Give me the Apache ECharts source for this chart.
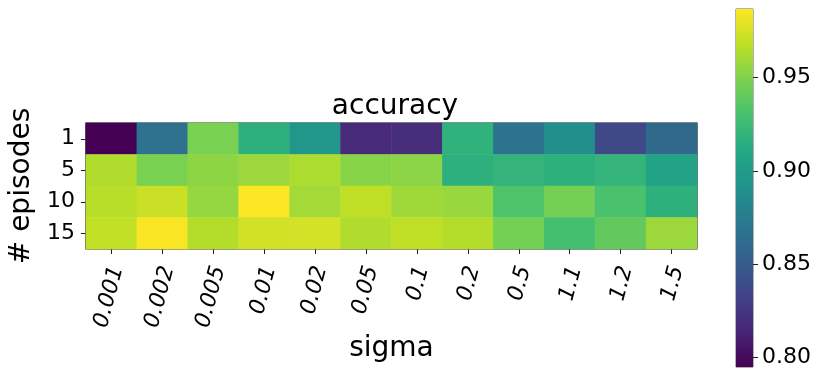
<!DOCTYPE html>
<html><head><meta charset="utf-8">
<script src="https://cdn.jsdelivr.net/npm/echarts@6/dist/echarts.min.js"></script>
<style>html,body{margin:0;padding:0;background:#fff}#c{width:815px;height:371px}</style>
</head><body><div id="c"></div>
<script>
const sigmas = ['0.001','0.002','0.005','0.01','0.02','0.05','0.1','0.2','0.5','1.1','1.2','1.5'];
const episodes = ['1','5','10','15'];
const acc_ep1  = [0.795,0.866,0.948,0.916,0.895,0.818,0.820,0.918,0.868,0.889,0.837,0.860];
const acc_ep5  = [0.964,0.948,0.954,0.958,0.963,0.952,0.953,0.916,0.920,0.917,0.920,0.906];
const acc_ep10 = [0.966,0.971,0.956,0.9866,0.960,0.968,0.959,0.957,0.933,0.946,0.931,0.917];
const acc_ep15 = [0.969,0.985,0.965,0.973,0.974,0.964,0.968,0.965,0.946,0.929,0.940,0.958];
const cbarMin = 0.795, cbarMax = 0.9866;
const cbarTicks = [0.80,0.85,0.90,0.95];
const viridis = ['#440154','#482475','#414487','#355f8d','#2a788e','#21918c','#22a884','#44bf70','#7ad151','#bddf26','#fde725'];

const rows = [acc_ep1, acc_ep5, acc_ep10, acc_ep15];
const cells = [];
rows.forEach((r, yi) => r.forEach((v, xi) => cells.push([xi, yi, v])));

const font = 'DejaVu Sans';
const chart = echarts.init(document.getElementById('c'), null, {renderer:'canvas'});
chart.setOption({
  animation:false,
  title:{text:'accuracy', left:390, textAlign:'center', top:88,
    textStyle:{fontFamily:font, fontSize:28, fontWeight:'normal', color:'#000'}},
  grid:[
    {left:84, right:118, top:123, bottom:122, show:true, borderColor:'#222', borderWidth:1.2, backgroundColor:'transparent'},
    {left:736, right:62, top:9, bottom:4, show:true, borderColor:'#666', borderWidth:1, backgroundColor:'transparent'}
  ],
  visualMap:{show:false, min:cbarMin, max:cbarMax, seriesIndex:0, dimension:2,
    inRange:{color:viridis}},
  xAxis:[
    {type:'category', gridIndex:0, data:sigmas, name:'sigma', nameLocation:'middle', nameGap:86,
     nameTextStyle:{fontFamily:font, fontSize:28, color:'#000'},
     axisLine:{show:false}, splitLine:{show:false},
     axisTick:{show:true, alignWithLabel:true, length:5, lineStyle:{color:'#222'}},
     axisLabel:{rotate:75, margin:16, verticalAlign:'top', lineHeight:12, fontFamily:font, fontStyle:'italic', fontSize:22, color:'#000'}},
    {type:'category', gridIndex:1, data:['c'], show:false}
  ],
  yAxis:[
    {type:'category', gridIndex:0, data:episodes, inverse:true, name:'# episodes', nameLocation:'middle', nameGap:48,
     nameTextStyle:{fontFamily:font, fontSize:28, color:'#000'},
     axisLine:{show:false}, splitLine:{show:false},
     axisTick:{show:true, alignWithLabel:true, length:5, lineStyle:{color:'#222'}},
     axisLabel:{margin:11, fontFamily:font, fontSize:22, color:'#000'}},
    {type:'value', gridIndex:1, min:cbarMin, max:cbarMax, position:'right',
     axisLine:{show:false}, splitLine:{show:false},
     axisTick:{show:true, length:5, customValues:cbarTicks, lineStyle:{color:'#222'}},
     axisLabel:{show:true, margin:9, customValues:cbarTicks, fontFamily:font, fontSize:22, color:'#000',
       formatter:v=>v.toFixed(2)}}
  ],
  series:[
    {type:'heatmap', xAxisIndex:0, yAxisIndex:0, data:cells, itemStyle:{borderWidth:0}},
    {type:'bar', xAxisIndex:1, yAxisIndex:1, data:[cbarMax], barWidth:'100%', silent:true,
     itemStyle:{color:new echarts.graphic.LinearGradient(0,1,0,0, viridis.map((c,i)=>({offset:i/(viridis.length-1), color:c})))}}
  ]
});
</script></body></html>
